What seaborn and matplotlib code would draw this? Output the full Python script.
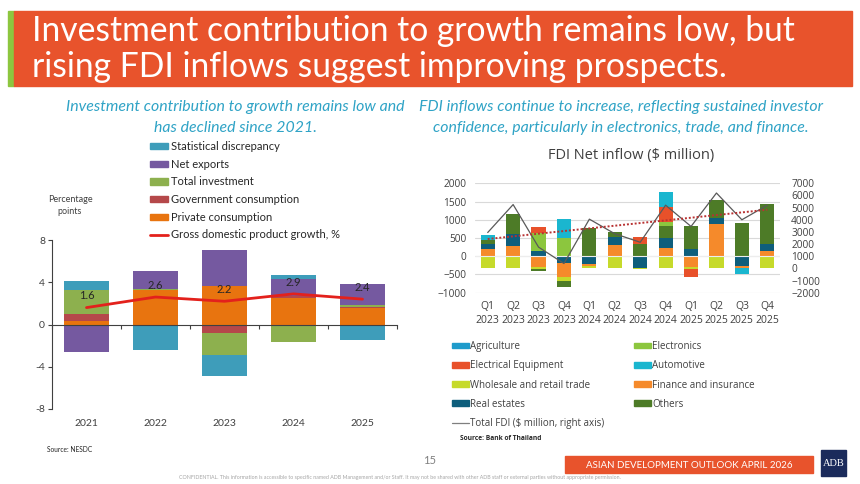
import numpy as np
import seaborn as sns
import matplotlib.pyplot as plt
from matplotlib.patches import Rectangle, Patch
from matplotlib.lines import Line2D

# --- LEFT CHART DATA (percentage points) ---
years = ['2021', '2022', '2023', '2024', '2025']
private_cons = [0.3, 3.3, 3.6, 2.5, 1.6]
government_cons = [0.65, 0.0, -0.85, 0.2, 0.1]
total_investment = [2.35, 0.05, -2.0, -1.7, 0.15]
net_exports = [-2.6, 1.7, 3.5, 1.6, 2.0]
stat_discrepancy = [0.8, -2.4, -2.05, 0.35, -1.5]
gdp_growth = [1.6, 2.6, 2.2, 2.9, 2.4]

# --- RIGHT CHART DATA ($ million) ---
quarters = ['Q1\n2023', 'Q2\n2023', 'Q3\n2023', 'Q4\n2023',
            'Q1\n2024', 'Q2\n2024', 'Q3\n2024', 'Q4\n2024',
            'Q1\n2025', 'Q2\n2025', 'Q3\n2025', 'Q4\n2025']
agriculture = [0, 0, 0, 0, 0, 0, 0, 0, 0, 0, 0, 0]
electronics = [0, 0, 476, 490, 0, 0, 0, 110, 0, 0, 0, 0]
electrical = [0, 0, 174, 0, 0, 0, 211, 394, -238, 0, 0, 0]
automotive = [137, 0, 0, 520, 0, 0, 0, 412, 0, 0, -165, 0]
wholesale = [-334, -333, -50, -105, -64, -333, -30, -333, -37, -334, 0, -333]
finance = [197, 280, -290, -375, -55, 307, 0, 234, -306, 874, -46, 152]
real_estate = [137, 330, 150, -196, -215, 210, -310, 256, 196, 183, -269, 183]
others = [110, 540, -66, -175, 782, 137, 324, 347, 641, 485, 901, 1097]
total_fdi = [2950, 5250, 1750, 400, 4050, 2850, 2150, 5200, 3450, 6200, 4000, 5200]

TEAL_TEXT = '#2FA3C6'
DARK = '#404040'
CALIBRI = ['Lato', 'DejaVu Sans']
SEGOE = ['Open Sans', 'DejaVu Sans']


def stack_bars(ax, x, series, colors, pos_order, neg_order, width):
    pos_base = np.zeros(len(x))
    neg_base = np.zeros(len(x))
    for name in pos_order:
        vals = np.clip(np.array(series[name], dtype=float), 0, None)
        ax.bar(x, vals, width, bottom=pos_base, color=colors[name], linewidth=0, zorder=2)
        pos_base += vals
    for name in neg_order:
        vals = np.clip(np.array(series[name], dtype=float), None, 0)
        ax.bar(x, vals, width, bottom=neg_base, color=colors[name], linewidth=0, zorder=2)
        neg_base += vals


sns.set_theme(style="white")
plt.rcParams['font.family'] = CALIBRI

fig = plt.figure(figsize=(8.6, 4.84), dpi=100)
W, H = 860, 484


def fx(px):
    return px / W


def fy(py):
    return 1 - py / H


# --- BANNER ---
fig.patches.append(Rectangle((fx(8), fy(86)), fx(6), (86 - 11) / H, transform=fig.transFigure,
                             color='#8DC63F', zorder=0))
fig.patches.append(Rectangle((fx(14), fy(86)), fx(838), (86 - 11) / H, transform=fig.transFigure,
                             color='#E8532C', zorder=0))
fig.text(fx(32), fy(31), 'Investment contribution to growth remains low, but',
         color='white', fontsize=24.2, va='center', ha='left')
fig.text(fx(32), fy(67), 'rising FDI inflows suggest improving prospects.',
         color='white', fontsize=24.2, va='center', ha='left')

# --- SUBTITLES ---
sub_kw = dict(color=TEAL_TEXT, fontsize=11.4, style='italic', ha='center', va='center')
fig.text(fx(235), fy(107), 'Investment contribution to growth remains low and', **sub_kw)
fig.text(fx(235), fy(128), 'has declined since 2021.', **sub_kw)
fig.text(fx(621), fy(107), 'FDI inflows continue to increase, reflecting sustained investor', **sub_kw)
fig.text(fx(621), fy(128), 'confidence, particularly in electronics, trade, and finance.', **sub_kw)

# --- LEFT CHART ---
axl = fig.add_axes([fx(52), fy(409), fx(345), 169 / H])
xl = np.arange(len(years))
left_series = {
    'Private consumption': private_cons,
    'Government consumption': government_cons,
    'Total investment': total_investment,
    'Net exports': net_exports,
    'Statistical discrepancy': stat_discrepancy,
}
left_colors = {
    'Private consumption': '#E8740F',
    'Government consumption': '#B5484A',
    'Total investment': '#8DB04E',
    'Net exports': '#7559A0',
    'Statistical discrepancy': '#3E9DBA',
}
left_order = list(left_series.keys())
stack_bars(axl, xl, left_series, left_colors, left_order, left_order, 0.64)
sns.lineplot(x=xl, y=gdp_growth, ax=axl, color='#E3211C', linewidth=2, zorder=4)
for xi, v in zip(xl, gdp_growth):
    axl.annotate(f'{v:.1f}', (xi, v), xytext=(0, 8.5), textcoords='offset points',
                 ha='center', va='center', fontsize=8, color='#262626', zorder=5)

axl.set_xlim(-0.5, len(years) - 0.5)
axl.set_ylim(-8, 8)
axl.set_yticks([-8, -4, 0, 4, 8])
axl.set_yticklabels(['-8', '-4', '0', '4', '8'], fontsize=7.5, color=DARK)
axl.set_xticks(np.arange(-0.5, len(years), 1.0))
axl.set_xticklabels([])
for s in ['top', 'right']:
    axl.spines[s].set_visible(False)
axl.spines['bottom'].set_position(('data', 0))
axl.spines['bottom'].set_color('#404040')
axl.spines['bottom'].set_linewidth(0.8)
axl.spines['bottom'].set_zorder(3)
axl.spines['left'].set_color('#404040')
axl.spines['left'].set_linewidth(0.8)
axl.tick_params(axis='y', direction='out', length=3, width=0.8, color='#404040', pad=2, left=True)
axl.tick_params(axis='x', direction='out', length=3, width=0.8, color='#404040', bottom=True)
for xi, lab in zip(xl, years):
    axl.text(xi, -0.084, lab, transform=axl.get_xaxis_transform(), ha='center', va='center',
             fontsize=7.5, color=DARK)

fig.text(fx(70), fy(200), 'Percentage', fontsize=6.5, color=DARK, ha='center', va='center')
fig.text(fx(70), fy(212), 'points', fontsize=6.5, color=DARK, ha='center', va='center')

left_handles = [Patch(color=left_colors[k]) for k in reversed(left_order)]
left_handles.append(Line2D([], [], color='#E3211C', linewidth=2))
left_labels = list(reversed(left_order)) + ['Gross domestic product growth, %']
fig.legend(left_handles, left_labels, loc='upper left', bbox_to_anchor=(fx(150), fy(141)),
           frameon=False, fontsize=8, handlelength=1.6, handleheight=0.5, handletextpad=0.25,
           labelspacing=0.6, borderpad=0, borderaxespad=0)

fig.text(fx(47), fy(449), 'Source: NESDC', fontsize=4.8, color='#262626', ha='left', va='center')

# --- RIGHT CHART ---
axr = fig.add_axes([fx(475), fy(292.7), fx(305), 109.4 / H])
xr = np.arange(len(quarters))
right_series = {
    'Agriculture': agriculture,
    'Electronics': electronics,
    'Electrical Equipment': electrical,
    'Automotive': automotive,
    'Wholesale and retail trade': wholesale,
    'Finance and insurance': finance,
    'Real estates': real_estate,
    'Others': others,
}
right_colors = {
    'Agriculture': '#1E9BCB',
    'Electronics': '#8CC63E',
    'Electrical Equipment': '#E8512A',
    'Automotive': '#1AB6CF',
    'Wholesale and retail trade': '#C6DA2B',
    'Finance and insurance': '#F58A2B',
    'Real estates': '#0E5E7C',
    'Others': '#4D7B27',
}
pos_order = ['Agriculture', 'Finance and insurance', 'Real estates', 'Others', 'Electronics',
             'Electrical Equipment', 'Automotive', 'Wholesale and retail trade']
neg_order = ['Real estates', 'Finance and insurance', 'Wholesale and retail trade', 'Others',
             'Electrical Equipment', 'Automotive', 'Agriculture', 'Electronics']
stack_bars(axr, xr, right_series, right_colors, pos_order, neg_order, 0.56)
axr.axhline(0, color='#EDEDED', linewidth=0.8, zorder=3)

axr.set_xlim(-0.5, len(quarters) - 0.5)
axr.set_ylim(-1000, 2000)
axr.set_yticks(range(-1000, 2001, 500))
axr.yaxis.grid(True, color='#D9D9D9', linewidth=0.8)
axr.set_axisbelow(True)
axr.set_xticks(xr)
axr.set_xticklabels(quarters, fontsize=7.5, color=DARK, family=SEGOE, linespacing=1.35)
axr.tick_params(axis='both', length=0)
axr.tick_params(axis='x', pad=6)
axr.tick_params(axis='y', pad=6)
for lab in axr.get_yticklabels():
    lab.set_fontsize(7.3)
    lab.set_color(DARK)
    lab.set_family(SEGOE)
for s in axr.spines.values():
    s.set_visible(False)

axr2 = axr.twinx()
sns.lineplot(x=xr, y=total_fdi, ax=axr2, color='#595959', linewidth=0.9)
slope, intercept = np.polyfit(xr, total_fdi, 1)
axr2.plot(xr, slope * xr + intercept, color='#B83232', linewidth=1.4, linestyle=(0, (1, 1)))
axr2.set_ylim(-2000, 7000)
axr2.set_yticks(range(-2000, 7001, 1000))
axr2.tick_params(axis='y', length=0, pad=8)
for lab in axr2.get_yticklabels():
    lab.set_fontsize(7.3)
    lab.set_color(DARK)
    lab.set_family(SEGOE)
for s in axr2.spines.values():
    s.set_visible(False)
axr2.grid(False)

fig.text(fx(631), fy(155), 'FDI Net inflow ($ million)', fontsize=10.5, color=DARK,
         family=SEGOE, ha='center', va='center')

# right legend, two columns filled row by row
names = list(right_series.keys())
col1 = names[0::2]
col2 = names[1::2]
h1 = [Patch(color=right_colors[k]) for k in col1] + [Line2D([], [], color='#7F7F7F', linewidth=0.9)]
l1 = col1 + ['Total FDI ($ million, right axis)']
h2 = [Patch(color=right_colors[k]) for k in col2]
legend_kw = dict(loc='upper left', frameon=False, handlelength=1.7, handleheight=0.55,
                 handletextpad=0.2, labelspacing=0.85, borderpad=0, borderaxespad=0,
                 prop={'family': SEGOE, 'size': 7})
leg1 = fig.legend(h1, l1, bbox_to_anchor=(fx(452), fy(341)), **legend_kw)
leg2 = fig.legend(h2, col2, bbox_to_anchor=(fx(634), fy(341)), **legend_kw)
for leg in (leg1, leg2):
    for t in leg.get_texts():
        t.set_color(DARK)

fig.text(fx(460), fy(438), 'Source: Bank of Thailand', fontsize=4.8, color='#262626',
         fontweight='bold', ha='left', va='center', family=SEGOE)

# --- FOOTER ---
fig.text(fx(430), fy(461), '15', fontsize=8, color='#808080', ha='center', va='center')
fig.text(fx(179), fy(478), 'CONFIDENTIAL. This information is accessible to specific named ADB '
         'Management and/or Staff. It may not be shared with other ADB staff or external parties '
         'without appropriate permission.', fontsize=3.8, color='#A6A6A6', ha='left', va='center')
fig.patches.append(Rectangle((fx(565), fy(473)), fx(248), 17 / H, transform=fig.transFigure,
                             color='#E8532C', zorder=0))
fig.text(fx(689), fy(465), 'ASIAN DEVELOPMENT OUTLOOK APRIL 2026', fontsize=7, color='white',
         ha='center', va='center')
fig.patches.append(Rectangle((fx(821), fy(476)), fx(25), 26 / H, transform=fig.transFigure,
                             color='#1B2B5B', zorder=0))
fig.text(fx(833.5), fy(463), 'ADB', fontsize=7.5, color='white', ha='center', va='center',
         family=['Liberation Serif', 'DejaVu Serif'])

fig.savefig('out.png', dpi=100)
